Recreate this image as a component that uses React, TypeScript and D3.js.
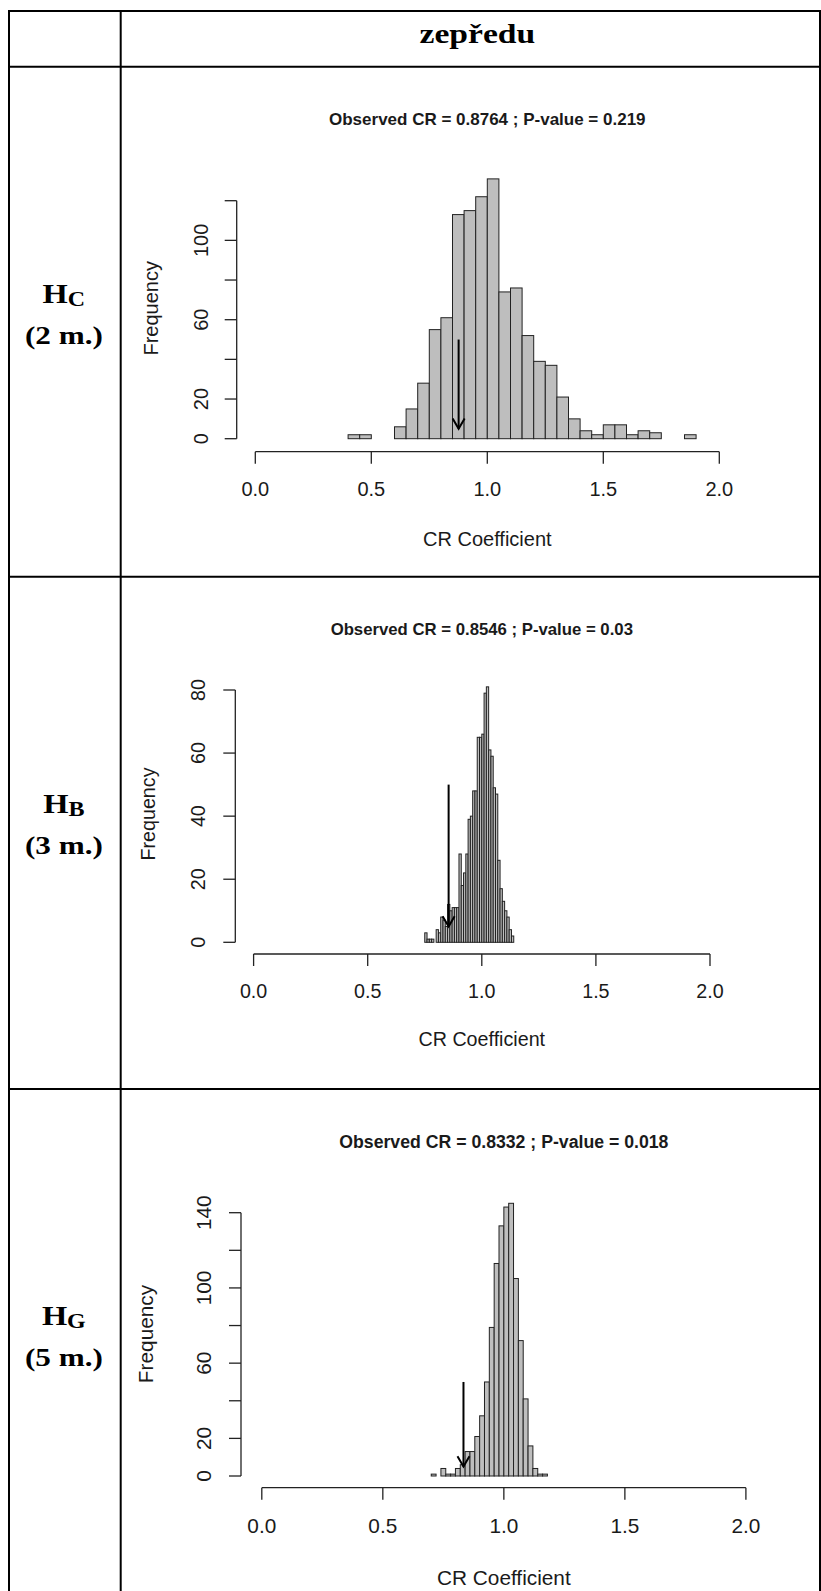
import React from "react";
import * as d3 from "d3";

// ---- data ----
const headerText = "zepředu";
const rowLetters = ["C", "B", "G"];
const rowDistances = ["(2 m.)", "(3 m.)", "(5 m.)"];

const xTicks = [0, 0.5, 1, 1.5, 2];

// Hc (2 m.) – bins of 0.05 starting at 0.40
const hcBinStart = 0.4;
const hcBinWidth = 0.05;
const hcCounts = [
  2, 2, 0, 0, 6, 15, 28, 55, 61, 113, 115, 122, 131, 74, 76, 52, 39, 37, 21, 10,
  4, 2, 7, 7, 2, 4, 3, 0, 0, 2,
];
const hcYTicks = [0, 20, 40, 60, 80, 100, 120];
const hcYLabels = [0, 20, 60, 100];

// Hb (3 m.) – bins of 0.01 starting at 0.75
const hbBinStart = 0.75;
const hbBinWidth = 0.01;
const hbCounts = [
  3, 1, 1, 1, 0, 4, 3, 8, 7, 5, 12, 10, 11, 11, 11, 28, 18, 22, 28, 39, 40, 48,
  48, 65, 65, 66, 79, 81, 61, 59, 49, 47, 26, 17, 13, 10, 8, 4, 2,
];
const hbYTicks = [0, 20, 40, 60, 80];
const hbYLabels = [0, 20, 40, 60, 80];

// Hg (5 m.) – bins of 0.02 starting at 0.70
const hgBinStart = 0.7;
const hgBinWidth = 0.02;
const hgCounts = [
  1, 0, 4, 1, 1, 4, 6, 13, 13, 21, 32, 50, 79, 113, 133, 143, 145, 105, 72, 41,
  16, 4, 1, 1,
];
const hgYTicks = [0, 20, 40, 60, 80, 100, 120, 140];
const hgYLabels = [0, 20, 60, 100, 140];

const observedCR = [0.8764, 0.8546, 0.8332];
const pValues = ["0.219", "0.03", "0.018"];
const arrowFrom = 50;
const arrowTo = 5;

// ---- layout ----
const W = 821;
const H = 1591;
const SANS = "'Liberation Sans', Arial, sans-serif";
const SERIF = "'Liberation Serif', 'Times New Roman', serif";
const INK = "#1a1a1a";

const colX = [9, 120.7, 820];
const rowY = [11, 66.7, 576.7, 1089];

interface PanelLayout {
  xRange: [number, number];
  yRange: [number, number];
  yMax: number;
  yAxisX: number;
  xAxisY: number;
  tickBase: number;
  xLabelBase: number;
  titleBase: number;
  yLabelBaseX: number;
  freqBaseX: number;
  freqCY: number;
  fs: number;
}

const layouts: PanelLayout[] = [
  {
    xRange: [255.3, 719.3],
    yRange: [438.7, 200.7],
    yMax: 120,
    yAxisX: 236.7,
    xAxisY: 451.7,
    tickBase: 495.7,
    xLabelBase: 545.7,
    titleBase: 124.5,
    yLabelBaseX: 207.5,
    freqBaseX: 158.4,
    freqCY: 308.3,
    fs: 1,
  },
  {
    xRange: [253.6, 710],
    yRange: [942.3, 690],
    yMax: 80,
    yAxisX: 235.3,
    xAxisY: 954,
    tickBase: 998,
    xLabelBase: 1046,
    titleBase: 635,
    yLabelBaseX: 205,
    freqBaseX: 155,
    freqCY: 814,
    fs: 0.985,
  },
  {
    xRange: [261.8, 745.9],
    yRange: [1476, 1212.7],
    yMax: 140,
    yAxisX: 241,
    xAxisY: 1487.7,
    tickBase: 1532.5,
    xLabelBase: 1585,
    titleBase: 1148,
    yLabelBaseX: 210.7,
    freqBaseX: 153,
    freqCY: 1334,
    fs: 1.04,
  },
];

const panels = [
  { binStart: hcBinStart, binWidth: hcBinWidth, counts: hcCounts, yTicks: hcYTicks, yLabels: hcYLabels },
  { binStart: hbBinStart, binWidth: hbBinWidth, counts: hbCounts, yTicks: hbYTicks, yLabels: hbYLabels },
  { binStart: hgBinStart, binWidth: hgBinWidth, counts: hgCounts, yTicks: hgYTicks, yLabels: hgYLabels },
];

function Histogram({ idx }: { idx: number }) {
  const L = layouts[idx];
  const P = panels[idx];
  const x = d3.scaleLinear().domain([0, 2]).range(L.xRange);
  const y = d3.scaleLinear().domain([0, L.yMax]).range(L.yRange);
  const bins = P.counts.map((c, i) => ({
    x0: P.binStart + i * P.binWidth,
    x1: P.binStart + (i + 1) * P.binWidth,
    c,
  }));
  const obs = observedCR[idx];
  const ax = x(obs);
  const tipY = y(arrowTo);
  const headLen = 12;
  const hx = headLen * Math.sin(Math.PI / 6);
  const hy = headLen * Math.cos(Math.PI / 6);
  const head = d3.line()([
    [ax - hx, tipY - hy],
    [ax, tipY],
    [ax + hx, tipY - hy],
  ]);
  const axisFs = 20 * L.fs;
  const titleFs = 17 * L.fs;
  const tickLen = 12;
  const topTick = P.yTicks[P.yTicks.length - 1];
  const midX = (L.xRange[0] + L.xRange[1]) / 2;

  return (
    <g>
      <text
        x={midX}
        y={L.titleBase}
        textAnchor="middle"
        fontFamily={SANS}
        fontWeight="bold"
        fontSize={titleFs}
        fill={INK}
      >
        {`Observed CR = ${obs} ; P-value = ${pValues[idx]}`}
      </text>

      {bins.map((b, i) => (
        <rect
          key={i}
          x={x(b.x0)}
          y={y(b.c)}
          width={x(b.x1) - x(b.x0)}
          height={y(0) - y(b.c)}
          fill="#bebebe"
          stroke="#222"
          strokeWidth={1}
        />
      ))}

      {/* arrow for the observed value */}
      <line x1={ax} x2={ax} y1={y(arrowFrom)} y2={tipY} stroke="#000" strokeWidth={2} />
      <path d={head ?? ""} fill="none" stroke="#000" strokeWidth={2} />

      {/* y axis */}
      <line x1={L.yAxisX} x2={L.yAxisX} y1={y(0)} y2={y(topTick)} stroke="#222" strokeWidth={1.3} />
      {P.yTicks.map((t) => (
        <line key={t} x1={L.yAxisX - tickLen} x2={L.yAxisX} y1={y(t)} y2={y(t)} stroke="#222" strokeWidth={1.3} />
      ))}
      {P.yLabels.map((t) => (
        <text
          key={t}
          transform={`translate(${L.yLabelBaseX},${y(t)}) rotate(-90)`}
          textAnchor="middle"
          fontFamily={SANS}
          fontSize={axisFs}
          fill={INK}
        >
          {t}
        </text>
      ))}
      <text
        transform={`translate(${L.freqBaseX},${L.freqCY}) rotate(-90)`}
        textAnchor="middle"
        fontFamily={SANS}
        fontSize={axisFs}
        fill={INK}
      >
        Frequency
      </text>

      {/* x axis */}
      <line x1={x(0)} x2={x(2)} y1={L.xAxisY} y2={L.xAxisY} stroke="#222" strokeWidth={1.3} />
      {xTicks.map((t) => (
        <g key={t}>
          <line x1={x(t)} x2={x(t)} y1={L.xAxisY} y2={L.xAxisY + tickLen} stroke="#222" strokeWidth={1.3} />
          <text
            x={x(t)}
            y={L.tickBase}
            textAnchor="middle"
            fontFamily={SANS}
            fontSize={axisFs}
            fill={INK}
          >
            {d3.format(".1f")(t)}
          </text>
        </g>
      ))}
      <text
        x={midX}
        y={L.xLabelBase}
        textAnchor="middle"
        fontFamily={SANS}
        fontSize={axisFs}
        fill={INK}
      >
        CR Coefficient
      </text>
    </g>
  );
}

export default function App() {
  const labelCX = (colX[0] + colX[1]) / 2;
  return (
    <svg
      width={W}
      height={H}
      style={{ position: "absolute", left: 0, top: 0, background: "#fff" }}
    >
      <rect x={0} y={0} width={W} height={H} fill="#fff" />

      {/* table grid */}
      {rowY.map((ry, i) => (
        <line key={`r${i}`} x1={colX[0] - 1} x2={colX[2] + 1} y1={ry} y2={ry} stroke="#000" strokeWidth={2} />
      ))}
      {colX.map((cx, i) => (
        <line key={`c${i}`} x1={cx} x2={cx} y1={rowY[0] - 1} y2={H} stroke="#000" strokeWidth={2} />
      ))}

      {/* header */}
      <g transform={`translate(${(colX[1] + colX[2]) / 2 + 7},43) scale(1.2,1)`}>
        <text textAnchor="middle" fontFamily={SERIF} fontWeight="bold" fontSize={28} fill="#000">
          {headerText}
        </text>
      </g>

      {/* row labels */}
      {rowLetters.map((letter, i) => {
        const top = rowY[i + 1];
        return (
          <g key={letter}>
            <g transform={`translate(${labelCX - 1},${top + 236}) scale(1.2,1)`}>
              <text textAnchor="middle" fontFamily={SERIF} fontWeight="bold" fontSize={27} fill="#000">
                H
                <tspan fontSize={20} dy={3}>
                  {letter}
                </tspan>
              </text>
            </g>
            <g transform={`translate(${labelCX - 1},${top + 277}) scale(1.2,1)`}>
              <text textAnchor="middle" fontFamily={SERIF} fontWeight="bold" fontSize={26} fill="#000">
                {rowDistances[i]}
              </text>
            </g>
          </g>
        );
      })}

      {layouts.map((_, i) => (
        <Histogram key={i} idx={i} />
      ))}
    </svg>
  );
}
